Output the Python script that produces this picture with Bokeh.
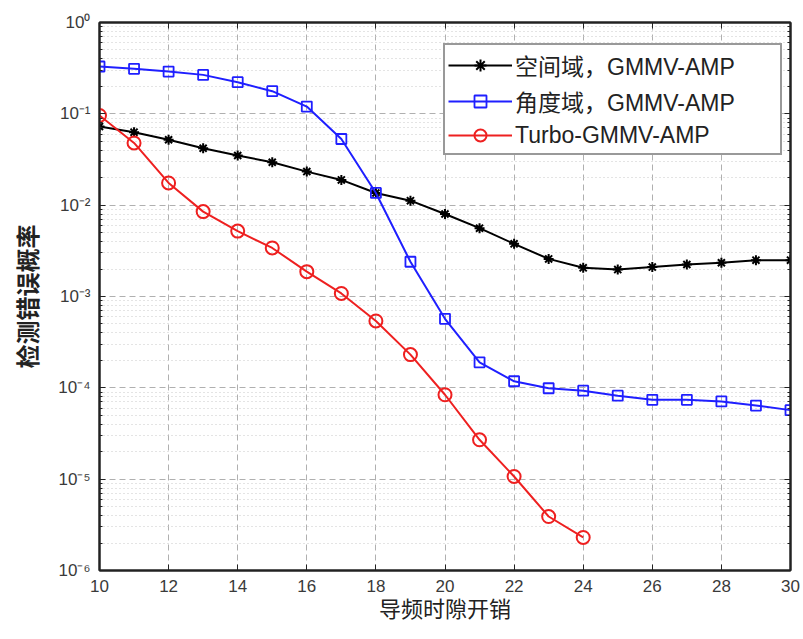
from bokeh.plotting import figure
from bokeh.models import (LogAxis, LinearAxis, FixedTicker, Legend, LegendItem, Range1d,
                          CustomLabelingPolicy)
from bokeh.embed import file_html
from bokeh.resources import INLINE

# data
x_slots = list(range(10, 31))
spatial = [0.0726, 0.063, 0.052, 0.042, 0.035, 0.0295, 0.0233, 0.0189, 0.0136, 0.0112,
           0.0080, 0.0056, 0.00377, 0.00258, 0.00206, 0.00197, 0.0021, 0.00224, 0.00234,
           0.0025, 0.0025]
angle = [0.33, 0.311, 0.29, 0.267, 0.222, 0.177, 0.12, 0.053, 0.0136, 0.0024, 0.00057,
         0.00019, 0.000118, 9.9e-5, 9.3e-5, 8.2e-5, 7.4e-5, 7.4e-5, 7.1e-5, 6.4e-5, 5.7e-5]
turbo_x = list(range(10, 25))
turbo = [0.096, 0.048, 0.0175, 0.0085, 0.0052, 0.0034, 0.00187, 0.00108, 0.00054,
         0.000231, 8.4e-5, 2.7e-5, 1.07e-5, 3.9e-6, 2.3e-6]
series_names = ["空间域，GMMV-AMP", "角度域，GMMV-AMP", "Turbo-GMMV-AMP"]
x_ticks = [10, 12, 14, 16, 18, 20, 22, 24, 26, 28, 30]
y_ticks = [1e-6, 1e-5, 1e-4, 1e-3, 1e-2, 1e-1, 1e0]
y_tick_labels = ["10⁻⁶", "10⁻⁵", "10⁻⁴", "10⁻³", "10⁻²", "10⁻¹", "10⁰"]
x_label = "导频时隙开销"
y_label = "检测错误概率"

minor_y = [m * 10.0 ** k for k in range(-6, 0) for m in range(2, 10)]

p = figure(width=803, height=639, y_axis_type="log", output_backend="svg",
           toolbar_location=None, x_range=Range1d(10, 30), y_range=Range1d(1e-6, 1),
           min_border_left=99, min_border_right=13, min_border_top=22, min_border_bottom=69)
p.background_fill_color = "white"
p.border_fill_color = "white"
p.outline_line_color = "#222222"
p.outline_line_width = 2

label_font = "Liberation Sans"
tick_color = "#3a3a3a"

def style_axis(ax):
    ax.axis_line_color = "#222222"
    ax.axis_line_width = 2
    ax.major_tick_in = 6
    ax.major_tick_out = 0
    ax.minor_tick_in = 3
    ax.minor_tick_out = 0
    ax.major_tick_line_color = "#222222"
    ax.minor_tick_line_color = "#222222"
    ax.major_label_text_font = label_font
    ax.major_label_text_font_size = "17px"
    ax.major_label_text_color = tick_color

def hide_axis_labels(ax):
    ax.major_label_policy = CustomLabelingPolicy(code="return []")
    ax.major_label_text_font_size = "1px"
    ax.major_label_standoff = 0

xa = p.xaxis[0]
xa.ticker = FixedTicker(ticks=x_ticks)
style_axis(xa)
xa.minor_tick_in = 0
xa.major_label_standoff = 9
xa.axis_label = x_label
xa.axis_label_text_font = "Noto Sans CJK SC"
xa.axis_label_text_font_size = "22px"
xa.axis_label_text_font_style = "normal"
xa.axis_label_text_color = "#222222"
xa.axis_label_standoff = -4

ya = p.yaxis[0]
ya.ticker = FixedTicker(ticks=y_ticks, minor_ticks=minor_y)
style_axis(ya)
ya.major_label_overrides = {t: l for t, l in zip(y_ticks, y_tick_labels)}
ya.major_label_standoff = 9
ya.axis_label = y_label
ya.axis_label_text_font = "Noto Sans CJK SC"
ya.axis_label_text_font_size = "24px"
ya.axis_label_text_font_style = "bold"
ya.axis_label_text_color = "#222222"
ya.axis_label_standoff = 11

ra = LogAxis(ticker=FixedTicker(ticks=y_ticks, minor_ticks=minor_y))
style_axis(ra)
hide_axis_labels(ra)
p.add_layout(ra, "right")
ta = LinearAxis(ticker=FixedTicker(ticks=x_ticks))
style_axis(ta)
hide_axis_labels(ta)
ta.minor_tick_in = 0
p.add_layout(ta, "above")

p.xgrid.grid_line_color = "#b0b0b0"
p.xgrid.grid_line_dash = "6 4"
p.xgrid.grid_line_width = 1
p.ygrid.grid_line_color = "#b0b0b0"
p.ygrid.grid_line_dash = "6 4"
p.ygrid.minor_grid_line_color = "#c8c8c8"
p.ygrid.minor_grid_line_dash = "1 3"

l1 = p.line(x_slots, spatial, line_color="black", line_width=2)
m1 = p.scatter(x_slots, spatial, marker="asterisk", size=10, line_color="black", line_width=2)
l2 = p.line(x_slots, angle, line_color="#1f1fff", line_width=2)
m2 = p.scatter(x_slots, angle, marker="square", size=10, line_color="#1f1fff",
               fill_color=None, line_width=1.8)
l3 = p.line(turbo_x, turbo, line_color="#ee2020", line_width=2)
m3 = p.scatter(turbo_x, turbo, marker="circle", size=13, line_color="#ee2020",
               fill_color=None, line_width=2)

legend = Legend(items=[
    LegendItem(label=series_names[0], renderers=[l1, m1]),
    LegendItem(label=series_names[1], renderers=[l2, m2]),
    LegendItem(label=series_names[2], renderers=[l3, m3]),
], location=(344, 415))
legend.label_text_font = "'Liberation Sans', 'Noto Sans CJK SC'"
legend.label_text_font_size = "23px"
legend.label_text_color = "#222222"
legend.glyph_width = 64
legend.glyph_height = 30
legend.label_height = 30
legend.label_width = 262
legend.spacing = 2
legend.padding = 3
legend.margin = 0
legend.label_standoff = 3
legend.border_line_color = "#333333"
legend.border_line_width = 2
legend.background_fill_color = "white"
legend.background_fill_alpha = 1
p.add_layout(legend)

open("out.html", "w").write(file_html(p, INLINE))
